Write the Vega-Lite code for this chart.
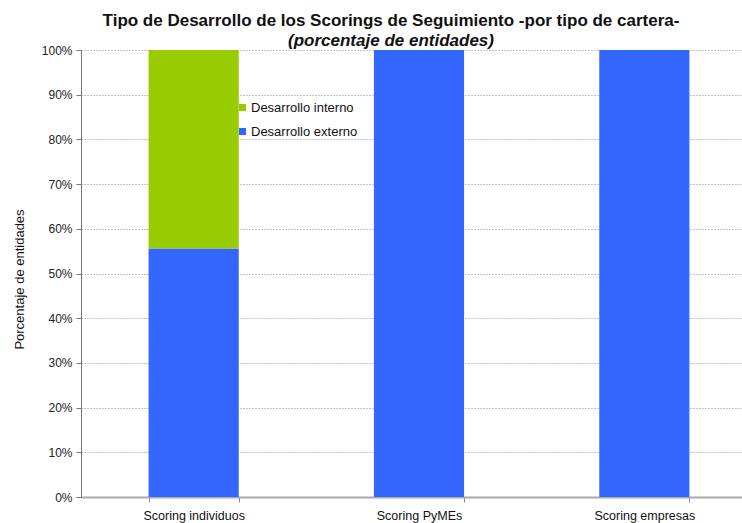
{
  "$schema": "https://vega.github.io/schema/vega-lite/v6.json",
  "autosize": "none",
  "padding": {"left": 81, "top": 50, "right": 0, "bottom": 26},
  "width": 676,
  "height": 447,
  "background": "white",
  "config": {
    "font": "Liberation Sans",
    "view": {"stroke": null}
  },
  "title": {
    "text": "Tipo de Desarrollo de los Scorings de Seguimiento -por tipo de cartera-",
    "subtitle": "(porcentaje de entidades)",
    "anchor": "middle",
    "frame": "group",
    "dx": -28,
    "offset": -6,
    "fontSize": 17,
    "fontWeight": "bold",
    "color": "#111",
    "subtitleFontSize": 17,
    "subtitleFontStyle": "italic",
    "subtitleFontWeight": "bold",
    "subtitleColor": "#111",
    "subtitlePadding": 3
  },
  "data": {
    "values": [
      {"cartera": "Scoring individuos", "tipo": "Desarrollo externo", "valor": 0.556},
      {"cartera": "Scoring individuos", "tipo": "Desarrollo interno", "valor": 0.444},
      {"cartera": "Scoring PyMEs", "tipo": "Desarrollo externo", "valor": 1.0},
      {"cartera": "Scoring PyMEs", "tipo": "Desarrollo interno", "valor": 0.0},
      {"cartera": "Scoring empresas", "tipo": "Desarrollo externo", "valor": 1.0},
      {"cartera": "Scoring empresas", "tipo": "Desarrollo interno", "valor": 0.0}
    ]
  },
  "mark": {"type": "bar"},
  "encoding": {
    "x": {
      "field": "cartera",
      "type": "nominal",
      "sort": ["Scoring individuos", "Scoring PyMEs", "Scoring empresas"],
      "scale": {"paddingInner": 0.6, "paddingOuter": 0.3},
      "axis": {
        "title": null,
        "labelAngle": 0,
        "labelFontSize": 12.5,
        "labelColor": "#111",
        "labelPadding": 7,
        "tickBand": "extent",
        "tickSize": 5,
        "tickColor": "#888",
        "domainColor": "#aaa",
        "domainWidth": 2
      }
    },
    "y": {
      "field": "valor",
      "type": "quantitative",
      "stack": "zero",
      "scale": {"domain": [0, 1], "nice": false},
      "axis": {
        "title": "Porcentaje de entidades",
        "titleFontSize": 13,
        "titleFontWeight": "normal",
        "titleColor": "#111",
        "titlePadding": 15,
        "titleY": 229,
        "format": ".0%",
        "values": [0, 0.1, 0.2, 0.3, 0.4, 0.5, 0.6, 0.7, 0.8, 0.9, 1.0],
        "labelFontSize": 12,
        "labelColor": "#222",
        "labelPadding": 4,
        "tickSize": 5,
        "tickColor": "#777",
        "domainColor": "#777",
        "grid": true,
        "gridColor": "#888",
        "gridDash": [1, 2],
        "gridWidth": 1
      }
    },
    "color": {
      "field": "tipo",
      "type": "nominal",
      "scale": {
        "domain": ["Desarrollo interno", "Desarrollo externo"],
        "range": ["#99CC00", "#3366FF"]
      },
      "legend": {
        "title": null,
        "orient": "none",
        "legendX": 155,
        "legendY": 51,
        "symbolType": "square",
        "symbolSize": 50,
        "labelFontSize": 13,
        "labelColor": "#111",
        "rowPadding": 10,
        "labelOffset": 2
      }
    },
    "order": {"field": "tipo", "sort": "ascending"}
  }
}
